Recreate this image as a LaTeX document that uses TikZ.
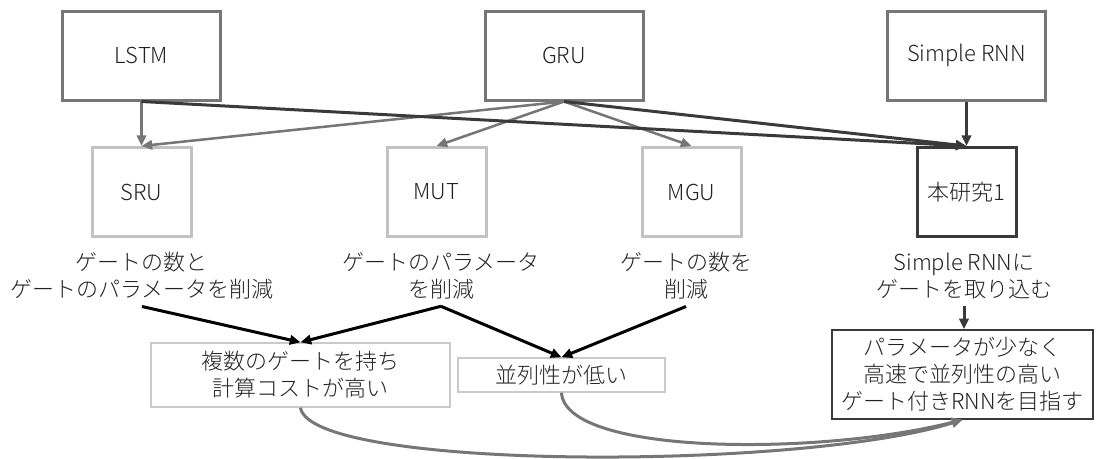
\documentclass[tikz,border=0pt]{standalone}
\usepackage{fontspec}
\setmainfont{Noto Sans CJK JP}[UprightFont=* Light]
\usetikzlibrary{arrows.meta}
\definecolor{topgray}{HTML}{767676}
\definecolor{midgray}{HTML}{C2C2C2}
\definecolor{darkgray2}{HTML}{3A3A3A}
\definecolor{lightborder}{HTML}{CACACA}
\definecolor{textcol}{HTML}{222222}
\tikzset{
  topbox/.style={draw=topgray, line width=2.25pt, minimum width=118.5pt, minimum height=66.75pt, inner sep=0pt},
  midbox/.style={draw=midgray, line width=2.25pt, minimum width=74.25pt, minimum height=66.75pt, inner sep=0pt},
  ownbox/.style={midbox, draw=darkgray2},
  lbl/.style={align=center, inner sep=5pt},
  lightbox/.style={draw=lightborder, line width=1.1pt, align=center, inner sep=0pt},
  darkbox/.style={draw=darkgray2, line width=1.1pt, align=center, inner sep=0pt},
  tip/.style={-{Triangle[length=8pt,width=7pt]}},
  garrow/.style={tip, draw=topgray, line width=1.9pt},
  darrow/.style={tip, draw=darkgray2, line width=2.25pt},
  barrow/.style={tip, draw=black, line width=2.25pt},
  carrow/.style={tip, draw=topgray, line width=2.25pt},
}
\begin{document}
\begin{tikzpicture}[x=0.75pt, y=-0.75pt, font=\fontsize{16.5pt}{20.25pt}\selectfont, every node/.style={text=textcol}]
\path[use as bounding box] (0,0) rectangle (1097,458);

% top row
\node[topbox] (lstm) at (141.5,55.5) {LSTM};
\node[topbox] (gru) at (564,55.5) {GRU};
\node[topbox] (srnn) at (966.5,55.5) {Simple RNN};

% middle row
\node[midbox] (sru) at (141.5,192) {SRU};
\node[midbox] (mut) at (436.5,192) {MUT};
\node[midbox] (mgu) at (691.5,192) {MGU};
\node[ownbox] (own) at (966.5,192) {本研究1};

% descriptions
\node[lbl] (t1) at (142,276) {ゲートの数と\\ゲートのパラメータを削減};
\node[lbl] (t2) at (441,276) {ゲートのパラメータ\\を削減};
\node[lbl] (t3) at (686,276) {ゲートの数を\\削減};
\node[lbl] (t4) at (964,276) {Simple RNNに\\ゲートを取り込む};

% bottom boxes
\node[lightbox, minimum width=224.25pt, minimum height=48pt] (c1) at (300.5,375) {複数のゲートを持ち\\計算コストが高い};
\node[lightbox, minimum width=155.25pt, minimum height=25.5pt] (c2) at (561.5,375) {並列性が低い};
\node[darkbox, minimum width=195.75pt, minimum height=66.75pt] (goal) at (962.5,374.5) {パラメータが少なく\\高速で並列性の高い\\ゲート付きRNNを目指す};

% top connectors
\draw[garrow] (lstm.south) -- (sru.north);
\draw[garrow] (gru.south) -- (sru.north);
\draw[garrow] (gru.south) -- (mut.north);
\draw[garrow] (gru.south) -- (mgu.north);
\draw[darrow] (lstm.south) -- (own.north);
\draw[darrow] (gru.south) -- (own.north);
\draw[darrow] (srnn.south) -- (own.north);

% description connectors
\draw[barrow] (t1.south) -- (c1.north);
\draw[barrow] (t2.south) -- (c1.north);
\draw[barrow] (t2.south) -- (c2.north);
\draw[barrow] (t3.south) -- (c2.north);
\draw[darrow] (t4.south) -- (t4.south |- goal.north);

% curved connectors
\draw[carrow] (c1.south) .. controls +(10,63) and +(-162,51) .. (goal.south);
\draw[carrow] (c2.south) .. controls +(4,63) and +(-142,36) .. (goal.south);
\end{tikzpicture}
\end{document}
